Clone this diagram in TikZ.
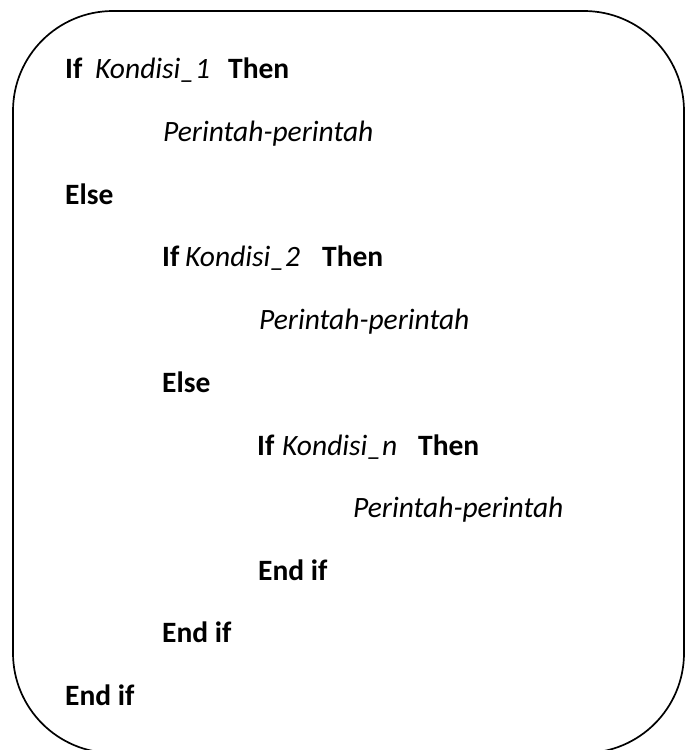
\documentclass[tikz,border=0pt]{standalone}
\usepackage{fontspec}
\setmainfont{Carlito}
\begin{document}
\begin{tikzpicture}[x=1pt,y=-1pt,
  txt/.style={inner sep=0pt,anchor=base west,font=\fontsize{29.5}{32}\selectfont},
  kw/.style={txt,font=\fontsize{29.5}{32}\selectfont\bfseries},
  it/.style={txt,font=\fontsize{29.5}{32}\selectfont\itshape},
  frame/.style={draw=black,line width=1.7pt,rounded corners=100pt}]
\useasboundingbox (0,0) rectangle (685,750);
\begin{scope}
\clip (0,0) rectangle (685,750);
\draw[frame] (13,11) rectangle (684,753);
\end{scope}
% line 1
\node[kw] (if1) at (65,78) {If};
\node[it] (k1) at (95,78) {Kondisi\_1};
\node[kw] (t1) at (228,78) {Then};
\node[it] (p1) at (163,141) {Perintah-perintah};
\node[kw] (e1) at (65,204) {Else};
% line 4
\node[kw] (if2) at (162,266) {If};
\node[it] (k2) at (185,266) {Kondisi\_2};
\node[kw] (t2) at (322,266) {Then};
\node[it] (p2) at (259,329) {Perintah-perintah};
\node[kw] (e2) at (162,392) {Else};
% line 7
\node[kw] (if3) at (257,455) {If};
\node[it] (k3) at (282,455) {Kondisi\_n};
\node[kw] (t3) at (418,455) {Then};
\node[it] (p3) at (353,517) {Perintah-perintah};
\node[kw] (ei3) at (258,580) {End if};
\node[kw] (ei2) at (162,642) {End if};
\node[kw] (ei1) at (65,705) {End if};
\end{tikzpicture}
\end{document}
